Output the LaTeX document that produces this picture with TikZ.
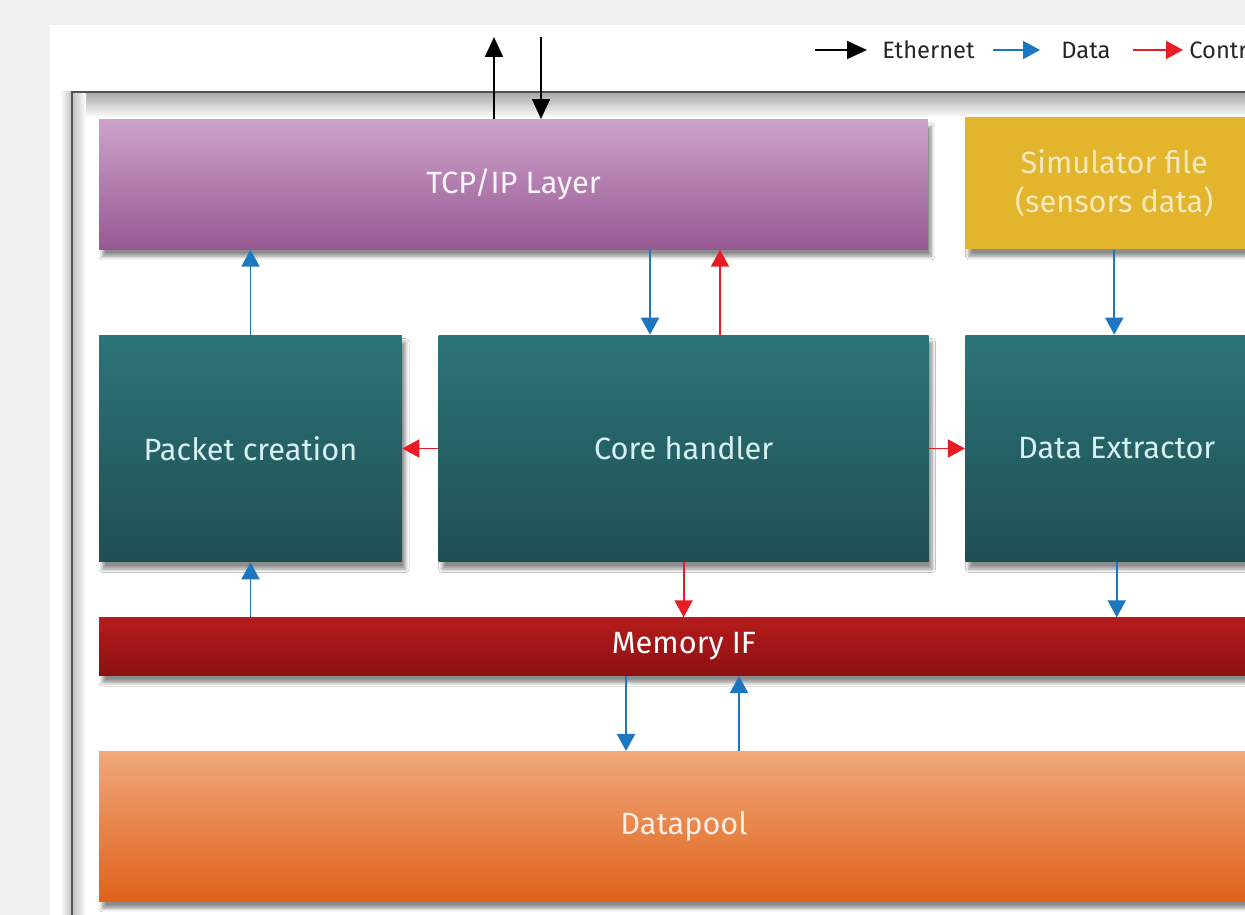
\documentclass[tikz,border=0pt]{standalone}
\usepackage{fontspec}
\setmainfont{Fira Sans}
\usetikzlibrary{arrows.meta,shadows.blur,positioning}

\definecolor{pagegray}{RGB}{240,240,240}
\definecolor{framegray}{RGB}{80,84,84}
\definecolor{datablue}{RGB}{28,118,192}
\definecolor{ctrlred}{RGB}{232,28,36}
\definecolor{tcptop}{RGB}{206,162,203}
\definecolor{tcpbot}{RGB}{150,88,146}
\definecolor{simfill}{RGB}{226,181,45}
\definecolor{tealtop}{RGB}{43,116,121}
\definecolor{tealbot}{RGB}{31,78,83}
\definecolor{tealtext}{RGB}{214,240,240}
\definecolor{memtop}{RGB}{181,28,28}
\definecolor{membot}{RGB}{140,16,16}
\definecolor{pooltop}{RGB}{240,168,124}
\definecolor{poolbot}{RGB}{224,98,26}

\tikzset{
  block/.style={rectangle, inner sep=0pt, align=center,
    font=\fontsize{17.5}{22}\selectfont,
    blur shadow={shadow xshift=2pt, shadow yshift=-4pt, shadow blur steps=6,
      shadow blur radius=2pt, shadow opacity=45}},
  tealblock/.style={block, top color=tealtop, bottom color=tealbot,
    text=tealtext, minimum height=4.54cm},
  legtext/.style={inner sep=0pt, font=\fontsize{13.5}{16}\selectfont, text=black!85},
  eth/.style={-{Triangle[length=0.4cm,width=0.36cm]}, line width=1pt},
  data/.style={-{Triangle[length=0.34cm,width=0.36cm]}, line width=1.1pt, datablue},
  ctrl/.style={-{Triangle[length=0.34cm,width=0.36cm]}, line width=1.1pt, ctrlred}
}

\begin{document}
\begin{tikzpicture}[x=0.02cm, y=-0.02cm, node distance=0.72cm]
  \useasboundingbox (0,0) rectangle (1245,915);
  \clip (0,0) rectangle (1245,915);
  \fill[pagegray] (0,0) rectangle (1245,915);
  \fill[white] (50,25) rectangle (1245,915);

  % outer frame
  \fill[left color=white, right color=black!25] (60,92) rectangle (72,935);
  \fill[top color=black!35, bottom color=white] (72,92) rectangle (1296,118);
  \fill[left color=black!25, right color=white] (72,92) rectangle (86,935);
  \draw[framegray, line width=1.2pt] (72,935) -- (72,92) -- (1296,92);

  % blocks
  \node[tealblock, minimum width=6.06cm] (pkt) at (250.5,448.5) {Packet creation};
  \node[tealblock, minimum width=9.8cm, right=of pkt] (core) {Core handler};
  \node[tealblock, minimum width=6.06cm, right=of core] (ext) {Data Extractor};
  \node[block, top color=tcptop, bottom color=tcpbot, text=white!88!tcptop,
    minimum width=16.58cm, minimum height=2.6cm,
    above=1.7cm of pkt.north west, anchor=south west] (tcp) {TCP/IP Layer};
  \node[block, fill=simfill, text=white!70!simfill,
    minimum width=5.96cm, minimum height=2.64cm,
    above=1.7cm of ext.north west, anchor=south west] (sim) {Simulator file\\(sensors data)};
  \node[block, top color=memtop, bottom color=membot, text=white,
    minimum width=23.4cm, minimum height=1.16cm,
    below=1.1cm of pkt.south west, anchor=north west] (mem) {Memory IF};
  \node[block, top color=pooltop, bottom color=poolbot, text=white!80!pooltop,
    minimum width=23.4cm, minimum height=3cm,
    below=1.5cm of mem.south west, anchor=north west] (pool) {Datapool};

  % legend
  \coordinate (lgk) at (815,50);
  \coordinate (lgka) at (867,50);
  \coordinate (lgb) at (993,50);
  \coordinate (lgba) at (1040,50);
  \coordinate (lgr) at (1133,50);
  \coordinate (lgra) at (1183,50);
  \draw[eth] (lgk) -- (lgka);
  \node[legtext, right=0.3cm of lgka] (lgeth) {Ethernet};
  \draw[data] (lgb) -- (lgba);
  \node[legtext, right=0.42cm of lgba] (lgdata) {Data};
  \draw[ctrl] (lgr) -- (lgra);
  \node[legtext, right=0.12cm of lgra] (lgctrl) {Control};

  % connectors
  \coordinate (ethup) at (494,37);
  \coordinate (ethdn) at (541,37);
  \coordinate (c1) at (650,0);
  \coordinate (c2) at (720,0);
  \coordinate (c3) at (626,0);
  \coordinate (c4) at (739,0);
  \draw[eth] (ethup |- tcp.north) -- (ethup);
  \draw[eth] (ethdn) -- (ethdn |- tcp.north);
  \draw[data] (pkt.north) -- (pkt.north |- tcp.south);
  \draw[data] (c1 |- tcp.south) -- (c1 |- core.north);
  \draw[ctrl] (c2 |- core.north) -- (c2 |- tcp.south);
  \draw[ctrl] (core.west) -- (pkt.east);
  \draw[ctrl] (core.east) -- (ext.west);
  \draw[data] (sim.south) -- (sim.south |- ext.north);
  \draw[data] (pkt.south |- mem.north) -- (pkt.south);
  \draw[ctrl] (core.south) -- (core.south |- mem.north);
  \draw[data] (ext.south) -- (ext.south |- mem.north);
  \draw[data] (c3 |- mem.south) -- (c3 |- pool.north);
  \draw[data] (c4 |- pool.north) -- (c4 |- mem.south);
\end{tikzpicture}
\end{document}
